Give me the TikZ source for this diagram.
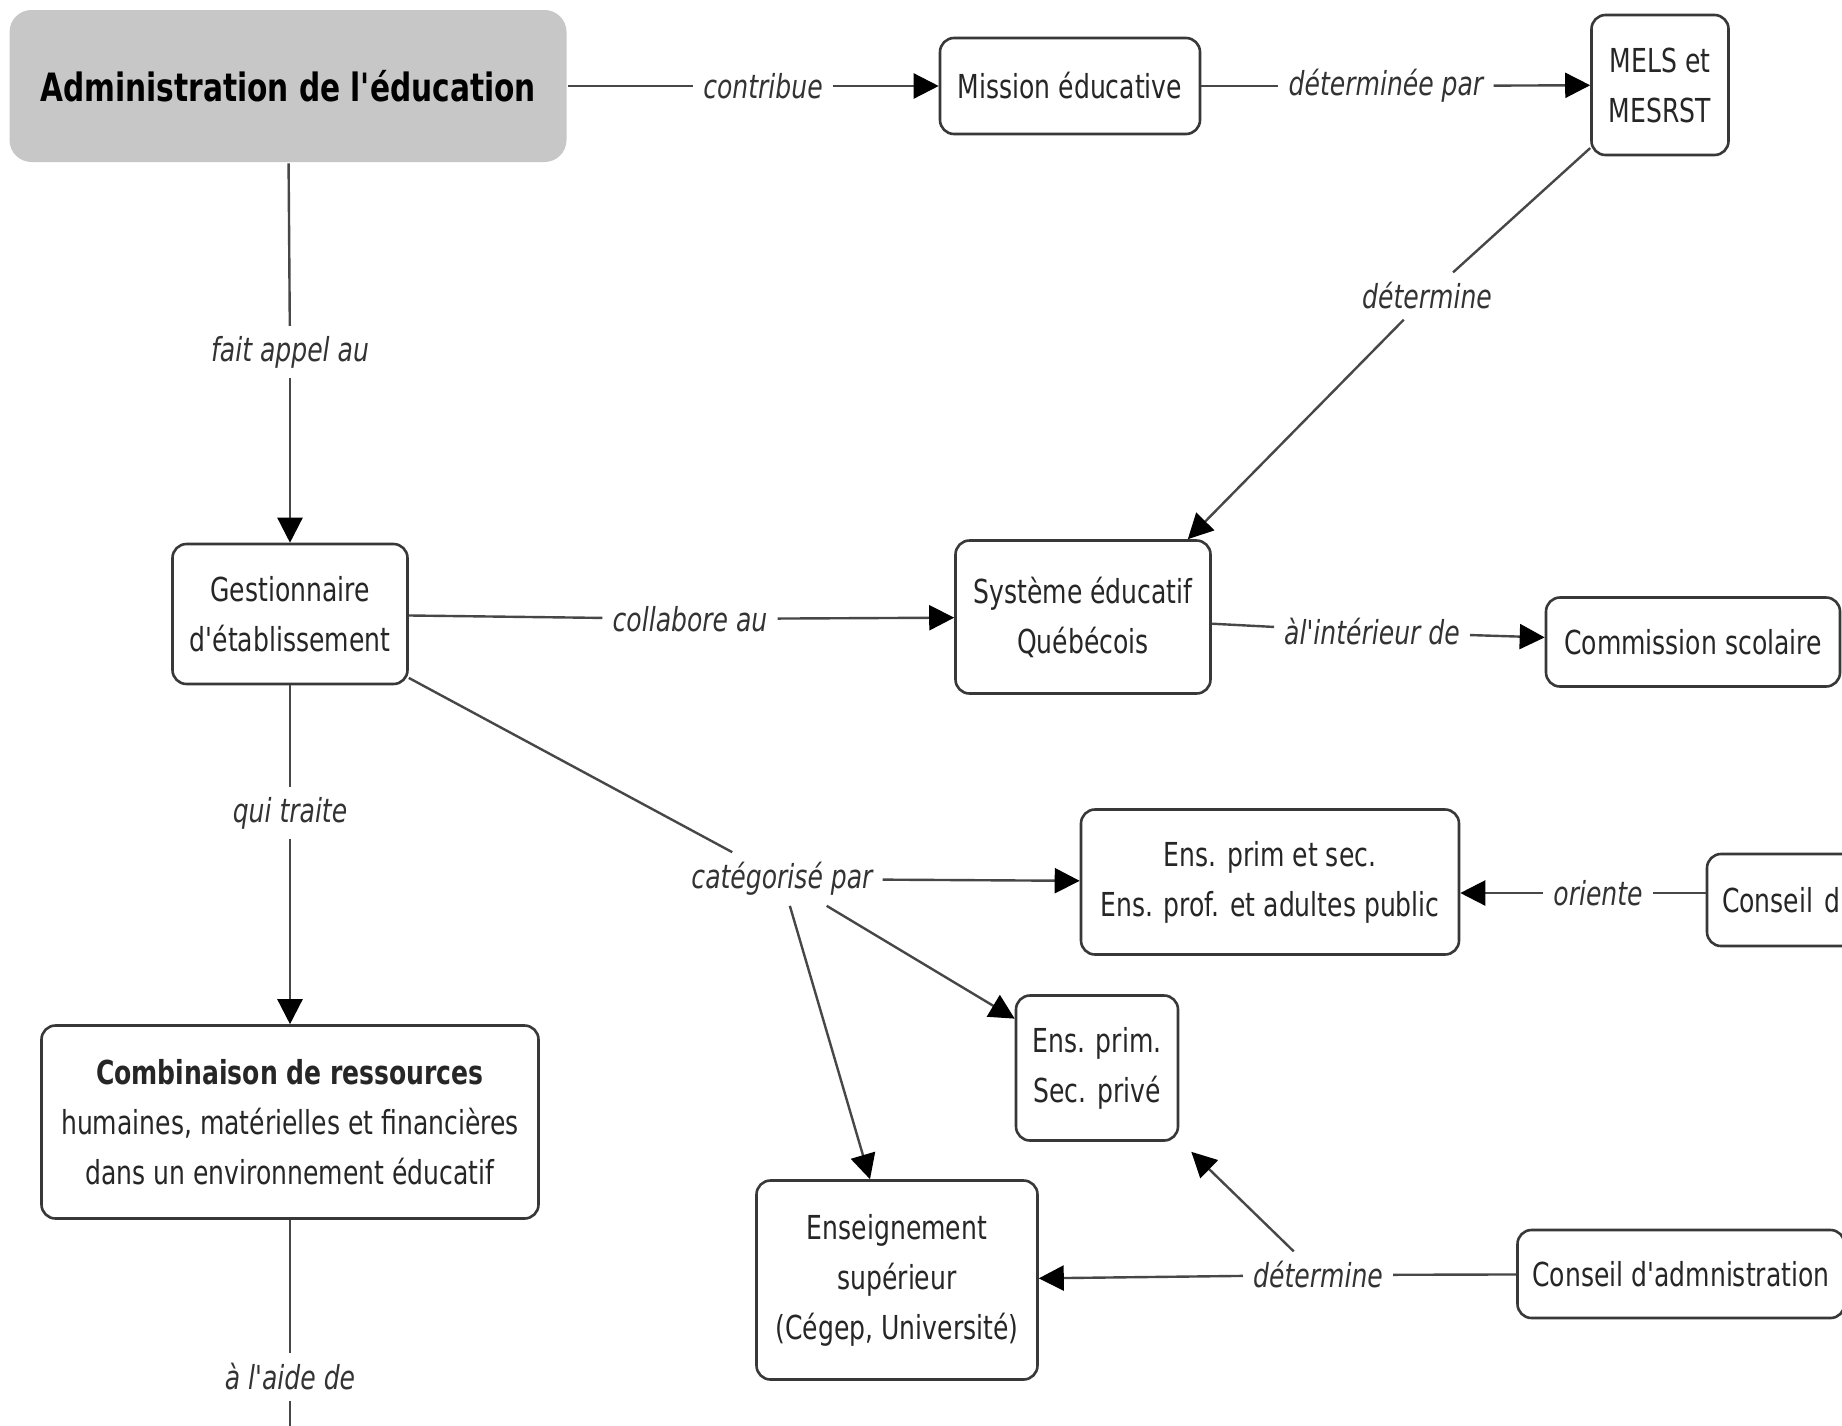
\documentclass[tikz,border=0pt]{standalone}
\usepackage{fontspec}
\newfontfamily\dv{DejaVu Sans}[FakeStretch=0.76]
\usetikzlibrary{arrows.meta,calc}
\tikzset{
 concept/.style={font=\dv\fontsize{33}{50}\selectfont, text=black!85, draw=black!78, line width=2.6pt, rounded corners=14pt, fill=white, align=center, inner sep=0pt},
 lbl/.style={font=\dv\itshape\fontsize{33}{40}\selectfont, text=black!80, inner sep=10pt},
 conn/.style={draw=black!72, line width=2.4pt},
 arr/.style={conn, -{Triangle[length=25pt,width=25pt,color=black]}},
}
\begin{document}
\begin{tikzpicture}[x=1pt,y=-1pt]
\useasboundingbox (0,0) rectangle (1842,1425);
\clip (0,0) rectangle (1842,1425);
\fill[white] (0,0) rectangle (1842,1425);
% concepts
\node[concept, fill=black!22, draw=none, rounded corners=22pt, minimum width=557pt, minimum height=152pt, text=black, font=\dv\bfseries\fontsize{39}{48}\selectfont] (admin) at (288,86) {Administration de l'éducation};
\node[concept, minimum width=260pt, minimum height=96pt] (mission) at (1070,86) {Mission éducative};
\node[concept, minimum width=137pt, minimum height=140pt] (mels) at (1660,85) {MELS et\\MESRST};
\node[concept, minimum width=235pt, minimum height=140pt] (gest) at (290,614) {Gestionnaire\\d'établissement};
\node[concept, minimum width=255pt, minimum height=153pt] (sys) at (1083,617) {Système éducatif\\Québécois};
\node[concept, minimum width=294pt, minimum height=89pt] (comm) at (1693,642) {Commission scolaire};
\node[concept, minimum width=378pt, minimum height=145pt] (ensps) at (1270,882) {Ens. prim et sec.\\Ens. prof. et adultes public};
\node[concept, minimum width=360pt, minimum height=92pt, text width=330pt, align=left] (conseil) at (1887,900) {Conseil d};
\node[concept, minimum width=162pt, minimum height=145pt] (prive) at (1097,1068) {Ens. prim.\\Sec. privé};
\node[concept, minimum width=497pt, minimum height=193pt] (comb) at (290,1122) {\textbf{Combinaison de ressources}\\humaines, matérielles et financières\\dans un environnement éducatif};
\node[concept, minimum width=281pt, minimum height=199pt] (sup) at (897,1280) {Enseignement\\supérieur\\(Cégep, Université)};
\node[concept, minimum width=327pt, minimum height=88pt] (cadm) at (1681,1274) {Conseil d'admnistration};
% labels
\node[lbl] (l1) at (763,86) {contribue};
\node[lbl] (l2) at (1386,86) {déterminée par};
\node[lbl] (l3) at (1427,296) {détermine};
\node[lbl] (l4) at (290,352) {fait appel au};
\node[lbl] (l5) at (690,619) {collabore au};
\node[lbl] (l6) at (1372,632) {àl'intérieur de};
\node[lbl] (l7) at (290,813) {qui traite};
\node[lbl] (l8) at (782,879) {catégorisé par};
\node[lbl] (l9) at (1598,893) {oriente};
\node[lbl] (l10) at (1318,1275) {détermine};
\node[lbl] (l11) at (290,1377) {à l'aide de};
\coordinate (bottom) at (290,1440);
% connectors
\draw[conn] (admin) -- (l1); \draw[arr] (l1) -- (mission);
\draw[conn] (mission) -- (l2); \draw[arr] (l2) -- (mels);
\draw[conn] (mels) -- (l3); \draw[arr] (l3) -- ([xshift=-24pt]sys.north east);
\draw[conn] (admin) -- (l4); \draw[arr] (l4) -- (gest);
\draw[conn] (gest) -- (l5); \draw[arr] (l5) -- (sys);
\draw[conn] (sys) -- (l6); \draw[arr] (l6) -- (comm);
\draw[conn] (gest) -- (l7); \draw[arr] (l7) -- (comb);
\draw[conn] (gest) -- (l8);
\draw[arr] (l8) -- (ensps);
\draw[arr] (l8) -- (prive);
\draw[arr] (l8) -- ([xshift=-27pt]sup.north);
\draw[conn] (l9 -| conseil.west) -- (l9); \draw[arr] (l9) -- (l9 -| ensps.east);
\draw[conn] (cadm) -- (l10); \draw[arr] (l10) -- (sup);
\draw[arr] (l10) -- ($(prive.south east)+(12,10)$);
\draw[conn] (comb) -- (l11); \draw[conn] (l11) -- (bottom);
\end{tikzpicture}
\end{document}
